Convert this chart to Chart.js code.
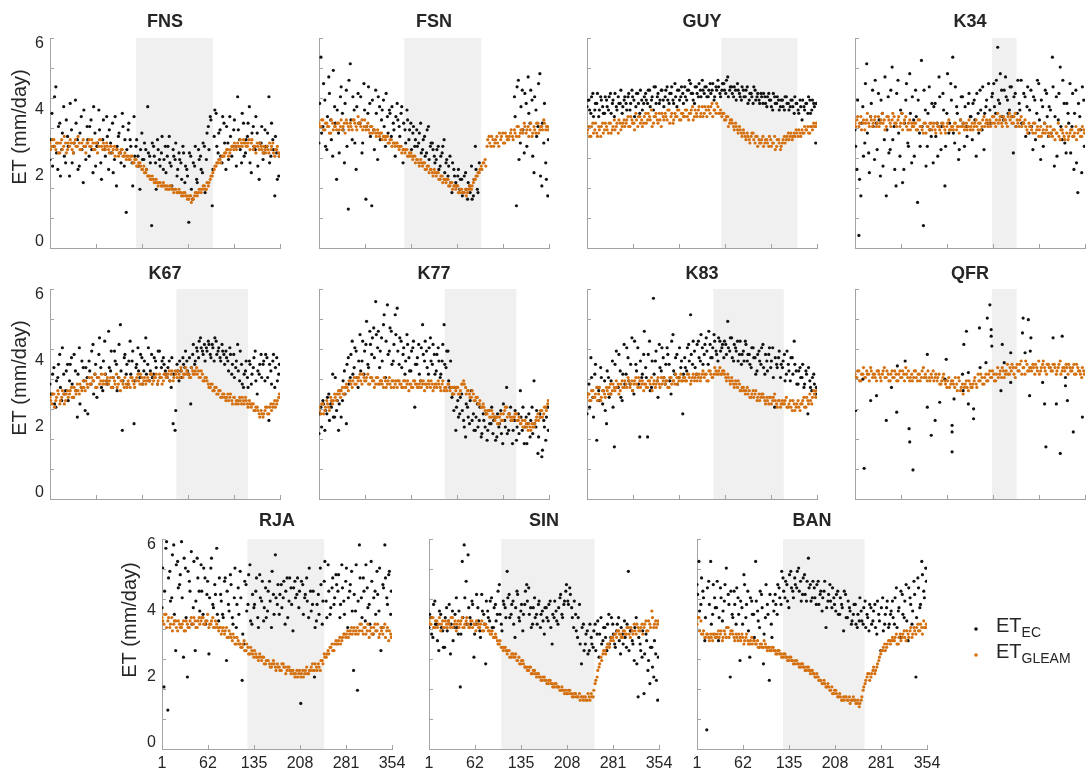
<!DOCTYPE html>
<html><head><meta charset="utf-8">
<script src="https://cdn.jsdelivr.net/npm/chart.js@4"></script>
<style>
html,body{margin:0;padding:0;background:#fff;overflow:hidden;width:1086px;height:774px;}
#wrap{position:relative;width:1086px;height:774px;overflow:hidden;}
canvas{position:absolute;}
</style></head><body><div id="wrap"></div>
<script>
const SITES = ['FNS','FSN','GUY','K34','K67','K77','K83','QFR','RJA','SIN','BAN'];
const DAYS = [1,4,7,10,13,16,19,22,25,28,31,34,37,40,43,46,49,52,55,58,61,64,67,70,73,76,79,82,85,88,91,94,97,100,103,106,109,112,115,118,121,124,127,130,133,136,139,142,145,148,151,154,157,160,163,166,169,172,175,178,181,184,187,190,193,196,199,202,205,208,211,214,217,220,223,226,229,232,235,238,241,244,247,250,253,256,259,262,265,268,271,274,277,280,283,286,289,292,295,298,301,304,307,310,313,316,319,322,325,328,331,334,337,340,343,346,349,352];
const DAYS_B = [2,5,8,11,14,17,20,23,26,29,32,35,38,41,44,47,50,53,56,59,62,65,68,71,74,77,80,83,86,89,92,95,98,101,104,107,110,113,116,119,122,125,128,131,134,137,140,143,146,149,152,155,158,161,164,167,170,173,176,179,182,185,188,191,194,197,200,203,206,209,212,215,218,221,224,227,230,233,236,239,242,245,248,251,254,257,260,263,266,269,272,275,278,281,284,287,290,293,296,299,302,305,308,311,314,317,320,323,326,329,332,335,338,341,344,347,350,353];
const X_TICK_LABELS = ['1','62','135','208','281','354'];
const Y_TICK_VALUES = [0,2,4,6];
const DRY_START = [133,132,207,211,195,194,195,211,132,112,133];
const DRY_END   = [251,250,324,249,305,304,303,249,250,255,258];

const FNS_GLEAM = [
3.0,2.9,3.1,2.8,3.0,2.7,3.1,2.9,3.0,2.8,
2.9,3.0,2.7,3.1,2.9,3.0,2.8,3.1,2.9,3.0,
3.1,2.9,3.0,2.8,3.0,2.9,3.1,2.8,2.9,3.0,
2.8,2.9,2.7,2.9,2.8,2.6,2.7,2.8,2.6,2.5,
2.6,2.5,2.6,2.4,2.5,2.3,2.4,2.2,2.3,2.1,
2.0,2.0,1.9,1.9,1.8,1.8,1.8,1.7,1.8,1.7,
1.7,1.6,1.7,1.6,1.6,1.5,1.6,1.5,1.4,1.5,
1.4,1.3,1.4,1.3,1.4,1.5,1.5,1.6,1.6,1.7,
1.6,1.7,1.9,2.0,2.2,2.3,2.4,2.5,2.6,2.6,
2.7,2.8,2.7,2.9,2.8,2.9,3.0,2.9,3.0,3.1,
3.0,2.9,3.1,3.0,2.8,2.9,3.0,2.8,2.9,2.7,
2.8,2.9,2.7,2.8,3.0,2.6,2.8,2.7];
const FNS_GLEAM_B = [
2.8,3.1,2.9,3.0,2.7,3.0,2.8,3.2,2.7,3.0,
3.1,2.8,3.0,2.9,3.2,2.8,3.0,2.9,2.7,3.0,
2.9,3.1,2.8,3.0,2.7,3.1,2.9,3.0,2.8,2.9,
2.7,2.9,2.8,2.6,2.8,2.7,2.8,2.6,2.7,2.6,
2.5,2.6,2.4,2.5,2.3,2.4,2.3,2.2,2.1,2.2,
2.0,1.9,2.0,1.8,1.9,1.7,1.8,1.7,1.7,1.6,
1.6,1.7,1.6,1.5,1.6,1.5,1.5,1.4,1.5,1.4,
1.3,1.4,1.2,1.3,1.5,1.4,1.6,1.5,1.7,1.6,
1.8,1.8,2.0,2.1,2.3,2.4,2.5,2.4,2.6,2.7,
2.8,2.6,2.8,2.9,3.0,2.8,2.9,3.1,2.9,3.0,
2.9,3.0,2.8,3.1,2.9,2.7,2.9,3.0,2.8,2.9,
2.7,2.8,3.0,2.9,2.7,2.8,2.9,2.6];
const FNS_EC = [
2.5,3.9,2.9,4.7,2.2,3.6,2.8,4.1,2.4,3.2,
2.0,3.4,2.7,4.3,3.1,2.3,3.8,1.8,2.9,3.5,
2.6,3.7,2.1,3.3,2.9,4.0,2.4,3.1,2.8,3.8,
2.2,3.0,3.6,2.5,1.7,3.2,2.7,3.9,2.3,0.9,
3.4,3.1,2.4,3.8,2.9,2.6,1.6,3.3,2.5,2.8,
4.1,2.6,0.5,2.9,2.4,3.1,2.5,2.7,2.2,2.9,
2.6,3.2,2.3,2.8,2.5,2.0,2.7,2.4,2.9,1.8,
2.2,0.6,2.6,1.3,2.3,1.9,2.8,2.6,2.1,2.9,
2.5,3.5,3.8,1.1,3.2,3.9,2.7,3.4,2.4,3.6,
2.2,3.0,3.8,2.6,3.4,2.9,4.4,3.1,2.4,3.6,
2.7,3.2,4.1,2.1,3.5,2.8,3.3,1.9,3.0,2.5,
3.4,2.9,4.4,2.6,3.1,1.4,2.7,2.0];
const FNS_EC_B = [
3.1,2.3,4.4,2.7,3.5,2.0,3.3,2.6,3.7,2.9,
4.2,2.4,3.0,3.6,2.2,3.3,2.8,4.0,2.5,3.1,
3.5,2.8,4.1,2.3,3.0,3.4,1.9,3.7,2.6,3.2,
3.4,2.7,2.1,3.8,2.9,3.3,2.4,3.5,3.1,2.8,
3.6,2.9,1.7,2.6,3.1,2.3,2.8,2.5,3.0,2.2,
2.7,2.4,3.0,2.6,1.6,2.8,2.3,3.2,2.5,2.1,
2.9,2.4,1.7,2.6,3.0,2.2,2.5,1.9,2.7,2.3,
2.0,2.7,1.6,2.4,2.9,1.8,2.5,2.2,3.0,1.5,
3.3,2.8,3.7,2.2,4.0,2.9,3.3,2.6,3.8,3.0,
3.5,2.5,3.2,2.9,3.7,2.3,3.4,2.8,3.9,2.6,
3.1,3.6,2.4,3.3,2.9,3.8,2.3,3.0,3.5,2.7,
2.9,3.3,2.4,3.6,2.8,3.2,1.9,2.6];

const FSN_GLEAM = [
3.6,3.5,3.7,3.4,3.6,3.5,3.3,3.6,3.5,3.4,
3.6,3.5,3.4,3.6,3.7,3.5,3.6,3.4,3.7,3.5,
3.8,3.6,3.7,3.5,3.4,3.6,3.3,3.5,3.4,3.3,
3.4,3.2,3.3,3.2,3.1,3.2,3.0,3.1,3.0,2.9,
3.0,2.8,2.9,2.8,2.7,2.8,2.6,2.7,2.5,2.6,
2.5,2.4,2.5,2.3,2.4,2.2,2.3,2.2,2.1,2.2,
2.0,2.1,1.9,2.0,1.9,1.8,1.9,1.7,1.8,1.7,
1.6,1.7,1.5,1.6,1.5,1.6,1.5,1.7,1.6,1.8,
1.9,2.0,2.1,2.3,2.4,2.5,2.9,3.2,2.9,3.1,
3.0,3.2,2.9,3.1,3.3,3.0,3.2,3.1,3.3,3.2,
3.4,3.2,3.5,3.3,3.4,3.6,3.3,3.5,3.4,3.2,
3.5,3.3,3.6,3.4,3.5,3.7,3.4,3.5];
const FSN_GLEAM_B = [
3.5,3.7,3.4,3.6,3.5,3.3,3.7,3.4,3.5,3.6,
3.4,3.7,3.5,3.3,3.6,3.4,3.5,3.7,3.6,3.4,
3.6,3.5,3.4,3.7,3.5,3.4,3.5,3.3,3.4,3.2,
3.3,3.3,3.1,3.2,3.2,3.0,3.1,2.9,3.0,3.0,
2.9,2.9,2.7,2.8,2.8,2.6,2.7,2.6,2.6,2.4,
2.5,2.3,2.4,2.4,2.2,2.3,2.1,2.2,2.0,2.1,
2.1,1.9,2.0,1.8,1.9,1.9,1.7,1.8,1.6,1.7,
1.7,1.5,1.6,1.5,1.5,1.4,1.6,1.6,1.7,1.9,
2.0,2.1,2.2,2.2,2.4,2.3,3.1,3.0,3.2,2.9,
3.1,3.0,3.3,3.2,3.0,3.3,3.1,3.2,3.4,3.1,
3.3,3.5,3.2,3.4,3.3,3.5,3.4,3.2,3.6,3.3,
3.4,3.6,3.3,3.5,3.4,3.6,3.5,3.4];
const FSN_EC = [
3.0,5.6,3.5,4.3,2.8,5.0,3.7,2.6,4.1,1.9,
3.3,4.4,3.9,2.4,4.6,1.0,5.4,3.1,4.0,2.2,
4.5,3.6,2.7,4.8,1.3,3.9,4.2,1.1,3.4,4.6,
2.5,4.1,3.7,4.3,2.9,3.8,4.0,3.2,3.6,2.6,
4.2,3.5,3.9,2.4,3.4,4.0,3.1,3.6,3.3,2.9,
3.4,3.0,3.6,2.8,3.2,2.7,3.5,2.9,3.0,2.6,
2.5,2.9,2.3,2.7,3.1,2.4,2.0,2.6,1.5,2.2,
1.8,2.0,1.6,1.9,1.5,2.1,1.3,1.7,2.3,1.4,
2.9,1.6,2.4,null,null,null,null,null,null,null,
null,null,null,null,null,null,null,null,null,null,
4.4,1.1,4.9,3.0,4.6,2.7,4.2,5.0,3.6,4.3,
2.1,4.0,3.5,5.1,1.7,3.0,2.4,1.4];
const FSN_EC_B = [
4.2,3.3,4.8,2.9,3.8,4.5,3.1,5.2,3.6,4.0,
2.7,4.7,3.4,4.2,2.9,4.9,3.7,4.4,3.0,4.1,
3.6,4.4,3.0,4.0,3.5,4.7,3.2,4.3,2.8,3.9,
4.4,3.1,4.0,3.5,4.5,3.3,3.9,4.1,3.4,3.8,
3.7,3.2,4.1,3.6,3.0,3.7,3.4,2.8,3.5,3.1,
2.9,3.3,2.7,3.1,2.6,3.4,2.5,3.0,2.8,2.4,
2.8,2.2,2.6,2.9,2.1,2.5,2.3,1.8,2.4,2.0,
1.7,2.2,1.9,1.4,2.0,1.6,1.8,1.5,1.3,1.9,
2.2,1.5,null,null,null,null,null,null,null,null,
null,null,null,null,null,null,null,null,null,null,
3.8,4.7,2.5,4.1,3.4,4.5,2.9,3.9,4.6,2.6,
4.4,3.2,4.8,2.0,3.6,4.2,1.9,3.1];

const GUY_GLEAM = [
3.3,3.5,3.2,3.6,3.4,3.3,3.5,3.2,3.6,3.4,
3.5,3.3,3.6,3.4,3.7,3.5,3.3,3.6,3.5,3.7,
3.6,3.8,3.5,3.7,3.6,3.9,3.5,3.8,3.7,3.6,
3.9,3.7,3.8,4.0,3.6,3.8,3.7,3.9,3.5,3.8,
3.9,3.7,4.0,3.8,3.6,3.9,3.8,4.0,3.7,3.9,
3.8,4.0,3.7,3.9,4.1,3.8,3.9,4.0,3.8,4.1,
3.9,4.0,4.1,3.9,4.2,4.0,3.9,4.1,3.9,3.8,
3.9,3.7,3.8,3.6,3.7,3.5,3.6,3.4,3.5,3.3,
3.4,3.2,3.3,3.1,3.2,3.3,3.0,3.2,3.1,3.0,
3.2,3.0,3.1,2.9,3.1,3.0,3.2,2.9,3.1,2.8,
3.0,3.2,3.1,3.3,3.2,3.1,3.3,3.4,3.2,3.3,
3.4,3.3,3.4,3.5,3.3,3.5,3.6,3.5];
const GUY_GLEAM_B = [
3.4,3.2,3.5,3.3,3.6,3.2,3.4,3.5,3.3,3.6,
3.4,3.6,3.3,3.5,3.4,3.6,3.7,3.4,3.6,3.5,
3.7,3.5,3.8,3.6,3.4,3.7,3.8,3.6,3.5,3.8,
3.6,3.9,3.7,3.5,3.8,3.9,3.6,3.7,3.9,3.7,
3.8,4.0,3.6,3.9,3.7,3.8,4.0,3.7,3.9,3.8,
4.0,3.8,3.9,4.0,3.7,4.0,3.8,4.1,3.9,3.8,
4.1,3.8,4.0,4.1,3.8,4.0,4.2,3.9,4.0,3.9,
3.7,3.8,3.5,3.7,3.6,3.4,3.5,3.3,3.4,3.2,
3.3,3.1,3.2,3.0,3.3,3.1,3.2,2.9,3.0,3.1,
2.9,3.1,3.0,3.2,2.9,3.0,2.8,3.1,3.0,2.9,
3.1,3.0,3.2,3.1,3.3,3.2,3.2,3.3,3.4,3.2,
3.3,3.5,3.4,3.3,3.5,3.4,3.5,3.6];
const GUY_EC = [
4.1,4.3,3.9,4.5,4.0,4.2,3.8,4.4,4.1,3.9,
4.3,4.0,4.5,4.2,3.8,4.1,4.4,4.2,3.9,4.3,
4.2,4.4,4.0,4.6,4.3,4.1,4.5,3.9,4.3,4.2,
4.5,4.2,4.6,4.3,4.0,4.7,4.4,4.2,4.6,4.3,
4.4,4.7,4.2,4.5,4.3,4.8,4.1,4.6,4.4,4.5,
4.7,4.3,4.6,4.8,4.5,4.2,4.7,4.4,4.6,4.9,
4.5,4.7,4.4,4.8,4.6,4.3,4.7,4.9,4.5,4.6,
4.8,4.5,5.0,4.6,4.7,4.4,4.6,4.8,4.5,4.3,
4.6,4.4,4.7,4.3,4.5,4.2,4.6,4.4,4.3,4.5,
4.2,4.4,4.1,4.5,4.3,4.0,4.4,4.2,4.3,4.1,
4.3,4.0,4.4,4.2,4.1,4.3,3.9,4.2,4.0,4.3,
3.7,4.1,4.2,3.9,4.3,4.0,4.2,3.0];
const GUY_EC_B = [
4.3,4.0,4.4,3.8,4.2,4.5,4.0,4.3,3.9,4.4,
4.1,4.4,3.9,4.3,4.5,4.0,4.2,4.6,4.1,4.4,
4.0,4.5,4.2,4.4,3.8,4.5,4.2,4.6,4.0,4.4,
4.3,4.6,4.1,4.4,4.7,4.2,4.5,4.3,4.6,4.1,
4.6,4.3,4.5,4.7,4.2,4.4,4.6,4.3,4.7,4.2,
4.4,4.6,4.9,4.5,4.3,4.7,4.5,4.8,4.4,4.6,
4.7,4.4,4.6,4.5,4.8,4.4,4.6,4.7,4.4,4.8,
4.6,4.9,4.4,4.7,4.5,4.7,4.3,4.6,4.4,4.7,
4.4,4.6,4.2,4.5,4.4,4.7,4.3,4.5,4.2,4.4,
4.5,4.2,4.4,4.3,4.1,4.5,4.2,4.4,4.0,4.3,
4.1,4.4,4.2,4.0,4.3,4.1,4.4,4.2,3.9,4.1,
4.3,4.0,4.2,4.4,3.9,4.3,4.1,4.2];

const K34_GLEAM = [
3.6,3.7,3.5,3.8,3.6,3.4,3.7,3.6,3.8,3.5,
3.7,3.5,3.8,3.6,3.9,3.7,3.5,3.8,3.6,3.7,
3.8,3.6,3.7,3.5,3.9,3.6,3.8,3.4,3.7,3.6,
3.5,3.6,3.4,3.7,3.5,3.3,3.6,3.5,3.4,3.6,
3.5,3.4,3.6,3.5,3.3,3.6,3.4,3.5,3.7,3.4,
3.5,3.6,3.4,3.5,3.7,3.5,3.4,3.6,3.5,3.4,
3.6,3.5,3.7,3.4,3.6,3.5,3.8,3.6,3.5,3.7,
3.6,3.8,3.5,3.9,3.7,3.6,3.8,3.7,3.5,3.9,
3.8,3.6,3.9,3.7,3.5,3.8,3.6,3.7,3.4,3.6,
3.5,3.3,3.6,3.4,3.2,3.5,3.3,3.6,3.4,3.3,
3.5,3.2,3.4,3.3,3.6,3.1,3.4,3.2,3.5,3.1,
3.3,3.4,3.2,3.5,3.3,3.4,3.2,3.4];
const K34_GLEAM_B = [
3.5,3.8,3.6,3.4,3.7,3.6,3.9,3.5,3.7,3.6,
3.8,3.6,3.5,3.7,3.6,3.4,3.8,3.7,3.5,3.9,
3.6,3.5,3.8,3.6,3.4,3.7,3.5,3.6,3.4,3.5,
3.6,3.4,3.7,3.5,3.4,3.6,3.3,3.5,3.6,3.4,
3.6,3.3,3.5,3.4,3.6,3.5,3.3,3.6,3.4,3.5,
3.4,3.6,3.5,3.3,3.5,3.6,3.5,3.4,3.7,3.5,
3.4,3.6,3.5,3.6,3.4,3.7,3.5,3.7,3.6,3.5,
3.8,3.6,3.7,3.6,3.8,3.5,3.7,3.6,3.8,3.7,
3.6,3.8,3.5,3.6,3.7,3.5,3.6,3.5,3.3,3.5,
3.4,3.6,3.3,3.5,3.4,3.2,3.4,3.3,3.5,3.2,
3.3,3.4,3.1,3.3,3.2,3.4,3.3,3.1,3.3,3.2,
3.4,3.2,3.3,3.1,3.4,3.2,3.5,3.3];
const K34_EC = [
3.4,2.2,0.2,1.4,4.1,3.0,5.4,2.7,3.8,4.6,
2.5,3.6,4.5,2.0,3.9,3.1,1.4,4.4,2.8,5.3,
3.5,1.7,4.9,2.6,3.9,2.2,4.3,3.0,5.1,2.4,
3.7,4.6,1.2,3.3,5.5,0.5,4.0,2.9,4.7,3.2,
2.4,4.2,3.6,5.0,2.8,4.5,1.7,3.9,3.3,4.8,
5.6,3.0,4.1,2.5,3.7,4.4,2.9,3.5,4.2,3.8,
3.1,4.3,2.6,3.9,4.6,3.4,2.8,4.1,3.6,4.0,
4.4,4.8,3.9,5.9,4.2,4.6,3.7,5.0,4.3,4.0,
4.7,2.7,4.5,3.9,4.2,4.9,3.6,4.4,4.1,3.3,
4.6,2.8,4.3,3.9,4.8,2.5,4.1,3.6,4.5,3.2,
4.0,5.6,2.3,4.4,3.7,5.3,3.1,4.2,2.7,3.9,
4.8,3.5,2.2,4.6,1.5,3.8,2.1,4.3];
const K34_EC_B = [
2.9,4.3,1.9,3.6,2.6,4.8,3.3,2.1,4.2,3.5,
4.9,2.8,3.7,4.3,2.3,5.0,3.4,2.7,4.6,3.1,
2.2,4.5,3.3,4.0,1.8,3.6,4.8,2.9,3.9,4.4,
2.6,3.8,4.3,2.9,3.5,4.6,2.3,3.9,3.4,4.2,
4.1,3.2,2.6,4.4,3.5,4.0,2.9,5.1,3.6,4.3,
3.3,4.7,3.9,2.8,4.4,3.6,4.1,3.2,4.5,3.8,
4.2,3.7,4.5,3.3,4.0,4.7,3.9,4.3,4.8,3.6,
4.5,4.1,4.9,4.3,5.1,3.8,4.6,4.4,3.9,4.7,
3.8,4.4,3.5,4.9,4.0,3.6,4.5,3.2,4.7,4.0,
3.5,4.4,3.1,4.9,3.7,4.3,2.9,4.6,3.8,4.1,
3.3,4.7,3.8,2.6,4.5,3.5,4.9,3.0,4.2,3.6,
2.7,4.5,3.9,2.4,4.2,3.4,4.7,2.9];

const K67_GLEAM = [
2.9,2.7,3.0,2.8,3.1,2.7,2.9,3.0,2.8,3.1,
3.0,3.2,2.9,3.1,3.3,3.0,3.2,3.4,3.1,3.3,
3.5,3.3,3.4,3.6,3.2,3.5,3.4,3.3,3.6,3.4,
3.3,3.5,3.2,3.4,3.6,3.3,3.1,3.4,3.2,3.3,
3.4,3.2,3.5,3.3,3.4,3.6,3.3,3.5,3.4,3.3,
3.5,3.4,3.6,3.4,3.5,3.3,3.6,3.5,3.4,3.6,
3.5,3.7,3.6,3.4,3.7,3.5,3.6,3.8,3.5,3.6,
3.7,3.6,3.5,3.7,3.6,3.8,3.7,3.5,3.6,3.4,
3.5,3.3,3.2,3.3,3.1,3.2,3.0,3.1,2.9,3.0,
2.8,3.0,2.9,2.8,2.9,2.7,2.8,2.9,2.7,2.8,
2.9,2.7,2.8,2.6,2.7,2.5,2.6,2.4,2.5,2.3,
2.5,2.6,2.4,2.7,2.6,2.8,2.7,2.9];
const K67_GLEAM_B = [
2.8,3.0,2.6,2.9,3.0,2.8,3.1,2.7,3.0,2.9,
3.1,2.9,3.2,3.0,3.1,3.3,3.1,3.2,3.4,3.2,
3.3,3.5,3.4,3.2,3.5,3.3,3.6,3.4,3.3,3.5,
3.4,3.2,3.5,3.3,3.2,3.5,3.4,3.3,3.5,3.2,
3.3,3.5,3.4,3.2,3.5,3.4,3.6,3.3,3.5,3.4,
3.4,3.6,3.3,3.5,3.6,3.4,3.5,3.3,3.6,3.5,
3.6,3.4,3.7,3.5,3.6,3.7,3.5,3.7,3.6,3.8,
3.6,3.5,3.8,3.6,3.7,3.6,3.5,3.7,3.4,3.5,
3.4,3.2,3.3,3.1,3.2,3.0,3.1,2.9,3.0,2.9,
2.9,2.8,3.0,2.7,2.9,2.8,2.7,2.8,2.9,2.7,
2.8,2.6,2.7,2.7,2.5,2.6,2.5,2.3,2.4,2.4,
2.6,2.4,2.6,2.5,2.7,2.6,2.8,3.0];
const K67_EC = [
3.3,3.0,3.8,2.6,3.5,4.2,2.8,3.6,3.1,3.9,
3.4,4.1,2.9,3.7,2.3,4.4,3.2,3.8,2.5,3.5,
4.0,3.3,4.5,3.6,2.9,4.2,3.8,3.1,4.6,3.4,
4.9,3.7,3.2,4.3,3.9,3.5,5.1,1.9,4.1,3.6,
3.3,4.6,4.0,2.1,3.8,4.4,3.5,4.1,3.7,4.7,
3.9,3.4,4.2,3.6,4.0,3.3,4.3,3.8,4.1,3.7,
3.5,4.0,3.2,2.1,1.9,3.9,3.4,3.7,4.1,3.8,
4.0,3.6,2.7,4.2,3.9,4.4,4.1,4.7,4.3,4.5,
4.4,4.6,4.2,4.5,4.0,4.6,4.3,4.1,4.5,4.2,
4.3,4.0,4.4,3.6,4.2,3.8,4.5,3.4,3.9,3.2,
3.7,3.5,4.0,3.3,3.8,4.3,3.0,3.6,4.2,3.9,
3.4,4.1,2.2,3.7,4.0,3.2,4.1,3.6];
const K67_EC_B = [
3.0,3.6,2.7,3.4,3.9,3.2,4.4,3.0,3.7,2.8,
3.9,3.3,4.2,3.1,3.6,2.7,4.0,3.4,3.8,2.4,
3.7,4.3,3.0,3.9,3.5,4.7,3.2,4.0,3.6,3.3,
3.8,4.3,3.5,4.0,3.1,4.5,3.7,3.4,4.2,3.9,
4.0,3.6,4.3,3.4,3.9,3.7,4.2,3.3,4.0,3.6,
4.4,3.7,3.5,4.1,3.8,4.3,3.5,4.0,3.9,3.6,
3.8,3.4,4.1,3.6,2.5,3.7,4.0,3.5,3.9,4.3,
3.7,4.1,3.8,4.5,4.0,4.3,4.6,4.4,4.2,4.0,
4.3,4.5,4.1,4.4,4.7,4.2,4.4,4.0,4.3,3.9,
4.1,3.7,4.2,3.9,3.5,4.0,3.7,4.3,3.3,3.6,
4.0,3.2,3.9,3.6,4.1,3.4,3.7,3.9,3.5,4.0,
4.2,3.5,3.9,3.3,4.2,3.8,3.4,3.9];

const K77_GLEAM = [
2.6,2.4,2.7,2.5,2.8,2.6,2.9,2.7,3.0,2.8,
3.1,2.9,3.2,3.0,3.3,3.1,3.4,3.2,3.5,3.3,
3.4,3.6,3.3,3.5,3.4,3.6,3.3,3.5,3.4,3.3,
3.5,3.3,3.4,3.2,3.4,3.3,3.5,3.2,3.4,3.3,
3.2,3.4,3.3,3.2,3.4,3.3,3.1,3.3,3.2,3.4,
3.3,3.2,3.4,3.3,3.1,3.3,3.4,3.2,3.3,3.2,
3.3,3.4,3.2,3.3,3.1,3.2,3.3,3.1,3.2,3.0,
3.1,3.2,3.0,3.3,3.4,3.2,3.1,3.0,2.9,3.0,
2.8,2.9,2.7,2.6,2.7,2.5,2.4,2.5,2.3,2.4,
2.2,2.3,2.1,2.4,2.2,2.5,2.6,2.4,2.3,2.2,
2.3,2.4,2.2,2.1,2.2,2.0,2.1,1.9,2.0,2.1,
2.0,2.2,2.4,2.3,2.5,2.4,2.6,2.7];
const K77_GLEAM_B = [
2.5,2.7,2.4,2.6,2.7,2.5,2.8,2.8,2.9,3.0,
3.0,3.1,3.0,3.2,3.2,3.4,3.3,3.4,3.3,3.5,
3.5,3.4,3.6,3.4,3.5,3.3,3.5,3.4,3.2,3.5,
3.3,3.4,3.3,3.5,3.2,3.4,3.3,3.4,3.2,3.4,
3.4,3.3,3.2,3.4,3.2,3.4,3.3,3.2,3.4,3.3,
3.2,3.3,3.2,3.4,3.3,3.2,3.3,3.4,3.1,3.3,
3.2,3.3,3.1,3.4,3.2,3.1,3.3,3.2,3.0,3.2,
3.2,3.0,3.1,3.3,3.3,3.0,3.1,2.9,3.1,2.8,
2.9,2.7,2.8,2.6,2.6,2.4,2.5,2.3,2.5,2.3,
2.3,2.1,2.3,2.2,2.4,2.6,2.3,2.4,2.2,2.3,
2.4,2.2,2.3,2.1,2.0,2.2,2.0,2.1,1.9,2.0,
2.1,2.3,2.2,2.5,2.3,2.6,2.5,2.8];
const K77_EC = [
1.8,2.6,2.8,1.9,2.4,3.0,2.7,3.6,2.3,2.5,
1.9,3.1,2.8,3.7,2.1,4.1,3.5,4.6,3.8,4.3,
3.2,4.8,4.0,3.6,4.5,3.9,4.9,4.2,5.0,5.8,
4.4,3.8,4.7,5.1,3.5,5.7,4.3,4.9,4.0,5.4,
5.6,3.9,4.6,4.2,3.6,4.8,4.1,3.7,4.4,2.6,
3.9,4.5,3.4,5.1,4.0,4.3,3.6,4.7,3.9,4.2,
3.7,4.4,3.5,4.0,5.1,3.8,4.3,3.2,2.9,2.5,
1.9,2.8,2.4,3.0,2.2,1.7,2.6,2.1,3.1,2.4,
1.9,2.7,2.2,1.7,2.4,2.0,1.6,2.5,2.1,1.8,
2.3,1.7,2.0,2.5,1.5,2.2,3.2,1.9,2.6,1.5,
2.2,1.6,2.4,3.1,1.9,1.5,2.3,2.1,1.7,2.6,
3.4,2.0,1.2,2.4,1.1,2.2,1.6,2.6];
const K77_EC_B = [
2.4,2.0,2.7,2.5,2.9,2.2,2.6,2.3,3.5,2.8,
2.7,2.3,3.4,3.0,3.9,3.3,4.2,3.6,4.4,3.5,
4.0,3.7,4.6,4.3,5.2,3.8,4.5,4.7,4.1,4.8,
4.9,4.3,4.0,5.4,4.6,4.2,5.0,3.9,4.5,4.8,
4.3,4.7,3.8,4.4,4.0,4.5,3.7,4.3,4.6,3.9,
4.1,3.6,4.4,4.2,4.6,3.8,4.4,4.0,4.5,3.6,
4.2,4.0,3.6,4.5,3.9,4.3,3.4,4.0,3.0,3.2,
2.6,2.3,2.9,2.5,2.0,2.7,2.3,2.8,2.2,1.9,
2.3,2.0,2.6,1.8,2.2,2.4,1.9,2.1,2.6,2.2,
1.6,2.4,2.1,1.8,2.7,2.0,1.8,2.4,2.2,1.9,
2.5,2.0,1.8,2.3,2.6,2.0,1.5,2.4,2.2,1.8,
2.1,2.5,1.7,2.3,1.3,2.0,2.3,1.9];

const K83_GLEAM = [
2.9,3.0,2.8,3.1,2.9,3.2,3.0,2.8,3.1,3.0,
3.2,3.0,3.3,3.1,3.2,3.4,3.3,3.1,3.4,3.2,
3.3,3.5,3.2,3.4,3.3,3.5,3.2,3.4,3.3,3.1,
3.3,3.2,3.4,3.5,3.3,3.2,3.4,3.3,3.5,3.4,
3.3,3.4,3.2,3.5,3.4,3.3,3.5,3.4,3.6,3.4,
3.5,3.4,3.6,3.3,3.5,3.4,3.6,3.5,3.4,3.6,
3.5,3.6,3.4,3.7,3.5,3.6,3.7,3.6,3.8,3.6,
3.7,3.5,3.6,3.4,3.5,3.3,3.4,3.2,3.3,3.1,
3.2,3.0,3.2,3.1,2.9,3.1,3.0,2.8,3.0,2.9,
3.0,2.8,2.9,2.7,2.9,2.8,3.0,2.7,2.8,2.6,
2.8,2.7,2.9,2.6,2.8,2.5,2.7,2.6,2.8,2.5,
2.7,2.9,2.6,2.8,3.0,2.7,3.1,2.9];
const K83_GLEAM_B = [
3.0,2.8,3.1,2.9,3.0,2.8,3.2,2.9,3.1,2.9,
3.1,3.2,3.0,3.3,3.1,3.2,3.0,3.3,3.2,3.4,
3.2,3.4,3.3,3.1,3.4,3.3,3.5,3.2,3.4,3.3,
3.2,3.4,3.3,3.1,3.4,3.3,3.5,3.2,3.3,3.5,
3.4,3.2,3.5,3.3,3.4,3.6,3.3,3.5,3.4,3.5,
3.4,3.6,3.5,3.4,3.6,3.5,3.4,3.6,3.5,3.7,
3.6,3.4,3.7,3.6,3.5,3.8,3.6,3.7,3.6,3.7,
3.6,3.4,3.5,3.3,3.4,3.2,3.3,3.4,3.1,3.2,
3.1,3.1,3.0,2.9,3.0,2.9,3.1,2.9,2.8,3.0,
2.9,2.7,2.8,2.9,2.7,2.9,2.8,2.6,2.8,2.7,
2.7,2.8,2.6,2.7,2.6,2.8,2.5,2.7,2.6,2.7,
2.8,2.6,2.9,2.7,2.8,2.9,3.0,3.1];
const K83_EC = [
2.4,3.3,4.1,2.9,3.6,1.6,3.1,3.8,2.7,3.4,
2.1,3.5,3.0,4.0,1.4,4.3,3.2,3.7,2.8,4.5,
3.6,4.1,3.3,4.7,3.0,3.9,4.4,1.7,3.5,4.2,
3.8,1.7,4.6,3.2,5.9,4.0,3.4,4.5,3.7,4.1,
3.3,4.4,3.9,3.0,4.8,3.6,4.2,3.5,3.8,2.4,
4.1,3.7,4.5,5.4,3.9,4.3,3.6,4.6,4.0,4.4,
4.2,4.7,3.9,4.5,4.1,4.8,4.3,4.0,4.6,4.4,
4.1,4.5,5.2,4.3,4.7,4.0,4.4,4.6,4.2,3.9,
4.3,4.6,4.0,4.2,3.8,4.4,4.1,3.7,4.3,3.9,
4.5,3.6,4.0,4.2,3.8,4.4,2.6,3.9,4.1,3.5,
3.8,4.2,3.6,3.9,3.4,4.1,4.6,3.7,3.3,3.8,
3.5,3.2,3.7,2.4,3.4,3.1,3.6,3.0];
const K83_EC_B = [
3.0,2.6,3.5,2.3,3.9,3.2,2.8,3.5,3.1,2.5,
3.7,2.9,3.4,2.6,3.9,3.2,4.2,2.9,3.6,3.3,
4.4,3.4,3.9,3.1,4.6,3.7,3.3,4.0,3.6,4.9,
3.5,4.2,3.1,4.0,3.6,4.3,2.9,3.8,4.4,3.5,
3.9,4.2,3.4,4.6,3.7,4.1,3.3,4.4,4.0,3.6,
3.8,4.4,4.0,4.2,4.6,3.8,4.5,4.1,4.8,3.9,
4.5,4.3,4.9,4.1,4.4,4.6,4.2,4.7,4.3,4.5,
4.6,4.2,4.4,4.7,4.1,4.5,4.3,4.0,4.6,4.2,
4.0,4.5,4.2,3.9,4.4,4.1,3.6,4.2,4.0,4.4,
3.8,4.2,3.7,4.4,4.0,3.5,4.1,3.8,4.3,3.9,
4.0,3.4,4.3,3.7,4.1,3.6,3.9,3.3,3.7,3.5,
3.9,3.3,3.6,3.8,3.2,3.5,3.3,3.2];

const QFR_GLEAM = [
3.6,3.5,3.7,3.4,3.6,3.5,3.7,3.6,3.8,3.5,
3.6,3.4,3.7,3.5,3.6,3.8,3.5,3.6,3.4,3.7,
3.5,3.6,3.4,3.7,3.5,3.6,3.8,3.5,3.4,3.6,
3.5,3.7,3.4,3.6,3.5,3.8,3.6,3.4,3.5,3.6,
3.7,3.5,3.4,3.6,3.3,3.5,3.4,3.2,3.5,3.3,
3.4,3.2,3.3,3.5,3.1,3.3,3.2,3.4,3.1,3.3,
3.2,3.4,3.3,3.6,3.4,3.5,3.3,3.6,3.4,3.7,
3.5,3.6,3.4,3.8,3.6,3.5,3.7,3.6,3.9,3.6,
3.7,3.8,3.5,3.9,3.7,4.0,3.8,3.6,3.9,3.7,
3.8,3.9,3.6,3.8,4.0,3.7,3.9,3.8,3.6,3.9,
3.8,3.7,3.9,3.6,3.8,4.0,3.7,3.8,3.9,3.6,
3.8,3.7,3.9,3.6,3.8,3.7,3.5,3.7];
const QFR_GLEAM_B = [
3.5,3.7,3.4,3.6,3.8,3.5,3.6,3.4,3.7,3.6,
3.5,3.7,3.6,3.4,3.7,3.5,3.7,3.4,3.6,3.5,
3.7,3.4,3.6,3.5,3.7,3.4,3.6,3.7,3.5,3.4,
3.7,3.5,3.6,3.4,3.7,3.5,3.5,3.7,3.4,3.5,
3.4,3.6,3.5,3.3,3.4,3.6,3.3,3.4,3.2,3.4,
3.3,3.5,3.1,3.4,3.2,3.0,3.3,3.2,3.4,3.2,
3.3,3.5,3.2,3.4,3.6,3.3,3.5,3.4,3.6,3.5,
3.7,3.4,3.6,3.5,3.7,3.8,3.5,3.7,3.6,3.8,
3.9,3.6,3.8,3.7,3.9,3.6,3.8,4.0,3.7,3.8,
3.7,3.8,3.9,3.7,3.6,3.8,4.0,3.7,3.9,3.8,
3.7,3.9,3.8,3.7,3.9,3.6,3.8,3.7,3.8,3.9,
3.7,3.8,3.6,3.9,3.7,3.6,3.8,3.6];
const QFR_EC_DAYS = [2,13,15,25,34,49,57,65,66,78,84,85,90,112,112,118,124,131,139,141,150,150,150,153,166,167,168,172,175,175,183,183,192,193,202,204,208,210,210,211,225,227,230,240,240,258,259,262,267,269,270,271,289,292,294,305,310,316,319,324,324,327,336,350];
const QFR_EC = [2.5,3.45,0.75,2.8,2.95,2.2,3.2,2.45,3.85,4.0,1.95,1.55,0.7,4.2,2.6,1.75,2.2,2.75,3.45,4.05,2.05,1.85,1.25,2.85,3.6,3.1,4.5,4.9,2.7,3.65,2.55,2.25,5.0,3.8,3.95,5.3,5.7,4.95,4.75,4.45,3.1,4.5,3.95,4.25,3.35,4.85,5.3,4.25,5.25,2.95,4.3,4.7,3.35,2.7,1.4,4.7,2.7,1.2,4.75,3.5,3.25,2.8,1.85,2.3];

const RJA_GLEAM = [
3.8,3.6,3.9,3.7,3.5,3.8,3.6,3.7,3.4,3.6,
3.5,3.7,3.4,3.6,3.5,3.8,3.6,3.7,3.5,3.8,
3.7,3.8,3.6,3.7,3.5,3.6,3.8,3.5,3.6,3.4,
3.5,3.4,3.3,3.5,3.2,3.3,3.1,3.2,3.0,3.1,
3.0,2.9,3.1,2.8,2.9,2.7,2.8,2.6,2.7,2.6,
2.7,2.5,2.6,2.4,2.5,2.4,2.3,2.5,2.3,2.4,
2.3,2.2,2.4,2.3,2.2,2.3,2.1,2.2,2.0,2.2,
2.1,2.0,2.2,2.1,2.3,2.1,2.2,2.4,2.2,2.3,
2.4,2.2,2.5,2.7,2.6,2.8,2.9,3.0,2.8,3.1,
3.0,3.2,3.1,3.3,3.2,3.4,3.3,3.5,3.4,3.3,
3.5,3.4,3.6,3.3,3.5,3.4,3.2,3.5,3.3,3.6,
3.4,3.2,3.5,3.3,3.6,3.4,3.1,3.3];
const RJA_GLEAM_B = [
3.7,3.9,3.5,3.8,3.6,3.4,3.7,3.5,3.7,3.5,
3.6,3.4,3.7,3.5,3.7,3.6,3.8,3.5,3.7,3.6,
3.8,3.6,3.7,3.9,3.6,3.7,3.5,3.7,3.5,3.5,
3.3,3.5,3.4,3.2,3.4,3.2,3.3,3.0,3.2,3.0,
2.9,3.0,2.8,3.0,2.7,2.9,2.7,2.8,2.6,2.5,
2.6,2.6,2.4,2.5,2.5,2.3,2.4,2.4,2.2,2.3,
2.2,2.4,2.3,2.1,2.3,2.2,2.2,2.1,2.1,2.0,
2.2,2.1,2.0,2.2,2.1,2.2,2.3,2.2,2.4,2.2,
2.3,2.5,2.4,2.6,2.7,2.7,2.9,2.8,3.0,3.0,
3.1,3.0,3.2,3.3,3.3,3.2,3.4,3.3,3.5,3.4,
3.3,3.6,3.4,3.5,3.3,3.6,3.4,3.3,3.5,3.4,
3.6,3.3,3.4,3.5,3.2,3.5,3.4,3.2];
const RJA_EC = [
4.1,1.7,5.9,1.0,5.2,4.4,6.0,2.8,5.5,4.8,
6.1,2.6,5.3,2.0,4.9,5.8,4.1,2.8,5.6,4.6,
5.4,3.9,5.0,4.5,2.7,5.3,4.2,4.8,5.9,3.7,
4.5,3.9,4.9,2.5,4.2,5.1,3.8,4.4,3.5,4.7,
5.2,1.9,3.0,4.8,4.2,5.4,3.6,4.1,4.6,3.8,
5.1,4.3,3.7,4.7,4.0,4.9,3.5,4.5,5.7,4.2,
3.9,4.8,4.4,3.6,5.0,4.3,4.7,3.4,4.9,4.5,
4.1,1.2,4.8,4.4,5.0,3.8,4.6,4.2,2.0,3.7,
4.5,5.3,3.6,4.9,4.3,5.4,3.9,4.7,4.2,5.1,
4.6,3.8,5.4,4.3,4.9,3.5,4.6,5.2,2.2,4.0,
1.6,6.0,4.4,5.0,3.7,4.7,4.2,5.5,3.3,4.6,
5.2,4.0,2.8,4.8,6.0,4.4,5.1,3.9];
const RJA_EC_B = [
5.3,4.6,6.1,5.0,4.3,5.7,3.9,5.4,4.7,5.1,
4.4,5.6,3.8,5.2,4.6,3.6,5.5,4.3,5.0,4.0,
4.6,5.3,3.6,4.9,4.4,5.6,4.1,4.5,3.9,5.0,
4.3,3.8,5.0,4.6,4.0,4.8,3.6,5.3,4.2,3.9,
4.4,3.3,4.9,4.0,5.1,3.7,4.5,4.2,5.0,3.5,
4.4,4.9,4.1,3.8,4.6,4.3,5.2,3.9,4.4,4.8,
4.5,4.1,4.9,4.6,3.8,5.0,4.2,4.7,4.4,5.0,
4.6,4.9,3.9,4.5,4.3,5.3,4.0,4.6,3.5,4.2,
3.9,4.8,4.3,5.5,3.8,4.6,4.1,5.0,4.4,4.8,
5.1,4.2,4.7,3.9,5.3,4.4,4.8,4.0,4.5,5.4,
4.3,5.0,3.8,4.6,5.4,4.1,3.6,4.9,4.4,3.9,
4.5,5.3,3.5,4.7,5.0,4.2,5.2,4.6];

const SIN_GLEAM = [
3.7,3.6,3.8,3.5,3.7,3.6,3.4,3.7,3.5,3.6,
3.7,3.5,3.8,3.6,3.4,3.7,3.6,3.8,3.5,3.7,
3.6,3.5,3.7,3.6,3.4,3.6,3.5,3.7,3.4,3.6,
3.5,3.4,3.3,3.2,3.3,3.1,3.0,2.9,2.8,2.9,
2.7,2.8,2.6,2.7,2.6,2.5,2.6,2.4,2.5,2.3,
2.3,2.2,2.3,2.1,2.2,2.0,2.1,2.0,1.9,2.0,
1.9,1.8,1.9,1.8,1.7,1.8,1.7,1.6,1.7,1.6,
1.6,1.5,1.6,1.5,1.4,1.5,1.4,1.5,1.4,1.3,
1.4,1.3,1.4,1.5,1.4,1.8,2.0,2.3,2.6,2.7,
2.8,2.9,3.0,3.1,3.2,3.3,3.2,3.4,3.3,3.2,
3.4,3.3,3.5,3.2,3.4,3.6,3.3,3.5,3.4,3.6,
3.5,3.7,3.4,3.6,4.0,3.5,3.7,3.6];
const SIN_GLEAM_B = [
3.6,3.8,3.5,3.7,3.5,3.8,3.6,3.5,3.7,3.5,
3.6,3.8,3.5,3.7,3.6,3.5,3.7,3.5,3.6,3.8,
3.5,3.7,3.5,3.6,3.7,3.5,3.6,3.4,3.6,3.5,
3.4,3.3,3.4,3.2,3.2,3.0,3.1,2.9,2.9,2.8,
2.8,2.6,2.7,2.6,2.7,2.5,2.4,2.5,2.4,2.3,
2.2,2.3,2.1,2.2,2.1,2.1,2.0,1.9,2.0,1.9,
1.8,1.9,1.8,1.7,1.8,1.7,1.7,1.6,1.6,1.5,
1.5,1.6,1.5,1.4,1.5,1.4,1.4,1.3,1.4,1.4,
1.3,1.5,1.3,1.4,1.6,1.9,2.2,2.4,2.5,2.8,
2.7,3.0,2.9,3.2,3.1,3.3,3.4,3.3,3.2,3.4,
3.3,3.5,3.3,3.5,3.3,3.4,3.6,3.4,3.5,3.3,
3.6,3.4,3.7,3.5,3.8,3.6,3.5,3.7];
const SIN_EC = [
3.5,3.8,3.2,4.3,3.6,2.8,3.9,3.4,2.9,4.1,
3.7,2.7,4.0,3.5,4.4,3.3,1.7,5.5,6.0,4.9,
5.7,3.8,4.3,2.6,3.6,4.1,3.4,4.5,3.9,2.4,
4.0,3.7,4.4,3.5,4.2,3.9,4.8,3.6,4.3,4.1,
5.2,4.5,3.9,4.3,3.2,4.6,3.8,4.0,3.4,4.2,
4.8,4.7,4.1,3.6,4.4,3.9,4.2,3.5,4.0,3.3,
4.1,3.7,4.3,3.0,3.8,4.0,3.6,4.4,3.9,4.2,
4.6,4.3,4.7,4.1,3.5,3.9,3.2,4.2,2.4,3.6,
3.0,3.4,2.8,3.2,2.9,3.6,3.3,2.6,3.8,3.1,
3.5,2.8,3.9,3.2,3.6,3.0,3.4,3.8,2.7,3.3,
3.7,2.9,5.2,3.4,3.1,2.5,3.8,1.4,3.0,2.6,
1.5,3.3,2.2,1.8,2.9,2.0,2.7,1.3];
const SIN_EC_B = [
3.9,3.3,4.2,3.6,3.1,4.0,3.5,2.9,3.8,3.4,
4.2,3.6,3.1,3.9,3.5,4.0,3.3,3.8,4.4,3.6,
4.1,3.6,4.2,3.3,4.5,3.7,3.2,4.0,3.6,4.3,
3.8,4.3,3.5,4.1,3.7,4.6,3.9,3.4,4.2,3.8,
4.4,3.8,4.2,3.6,4.1,4.5,3.7,4.2,3.9,4.6,
4.3,3.9,3.5,4.1,3.8,3.6,4.3,3.9,3.7,4.1,
3.8,4.2,3.5,3.9,4.3,3.7,4.1,4.5,3.8,4.3,
4.8,4.2,4.5,3.8,4.3,3.4,3.8,3.0,3.5,2.8,
3.3,2.7,3.6,3.0,3.4,2.8,3.7,3.3,3.0,3.5,
3.2,3.6,3.0,3.8,3.3,2.9,3.6,3.1,3.5,3.0,
3.2,3.6,2.8,3.4,3.0,3.5,2.4,3.2,2.8,3.4,
2.7,3.1,2.5,2.9,2.3,3.1,1.9,2.6];

const BAN_GLEAM = [
3.6,3.8,3.7,3.3,3.2,3.3,3.2,3.3,3.1,3.3,
3.2,3.4,3.3,3.1,3.4,3.2,3.5,3.3,3.4,3.2,
3.3,3.1,3.2,3.3,3.0,3.2,3.1,3.0,3.2,3.1,
3.0,3.1,2.9,3.0,2.9,3.0,2.8,2.9,2.8,2.9,
2.8,2.7,2.8,2.7,2.6,2.7,2.6,2.5,2.6,2.5,
2.4,2.5,2.4,2.3,2.4,2.3,2.2,2.3,2.1,2.2,
2.1,2.0,2.0,1.9,1.8,1.9,1.7,1.8,1.6,1.7,
1.5,1.6,1.4,1.5,1.3,1.4,1.4,1.3,1.4,1.3,
1.4,1.3,1.2,1.1,1.3,1.6,1.8,2.0,2.1,2.0,
2.2,2.1,2.3,2.5,2.7,2.8,3.0,2.9,3.1,3.0,
3.2,3.1,3.3,3.0,3.3,3.2,3.4,3.1,3.3,3.4,
3.2,3.5,3.3,3.6,3.4,3.5,3.7,3.5];
const BAN_GLEAM_B = [
3.8,3.4,3.3,3.4,3.2,3.3,3.1,3.2,3.3,3.2,
3.3,3.2,3.4,3.2,3.3,3.5,3.2,3.4,3.3,3.1,
3.2,3.3,3.1,3.2,3.1,3.3,3.0,3.1,3.0,3.1,
3.0,2.9,3.0,2.9,3.1,2.9,2.9,2.8,2.9,2.8,
2.7,2.8,2.7,2.6,2.7,2.6,2.5,2.6,2.5,2.4,
2.5,2.4,2.3,2.4,2.3,2.2,2.3,2.2,2.2,2.1,
2.0,2.1,1.9,1.9,1.8,1.8,1.7,1.7,1.6,1.5,
1.6,1.5,1.4,1.4,1.3,1.3,1.4,1.3,1.2,1.3,
1.3,1.2,1.3,1.2,1.4,1.7,1.9,2.1,1.9,2.1,
2.3,2.2,2.4,2.6,2.8,2.9,2.8,3.0,3.1,3.1,
3.1,3.2,3.0,3.2,3.1,3.3,3.2,3.4,3.2,3.5,
3.3,3.4,3.5,3.4,3.6,3.3,3.5,3.6];
const BAN_EC = [
4.8,5.5,4.2,4.6,3.1,0.4,4.9,5.5,3.9,4.4,
4.1,3.1,4.7,3.7,4.3,5.3,4.5,2.0,3.9,4.6,
3.6,4.4,2.5,4.1,5.1,3.8,4.6,2.6,4.3,3.9,
5.5,4.0,3.5,4.5,2.4,3.8,4.2,1.9,3.6,4.3,
4.5,3.9,4.7,4.2,5.0,4.4,4.8,4.1,5.2,4.6,
5.0,4.7,5.3,4.9,4.5,5.1,4.3,5.6,4.8,4.4,
4.7,4.2,4.9,4.5,4.0,4.6,3.5,4.3,4.8,4.1,
4.4,4.0,4.6,3.9,4.2,3.4,4.5,3.8,4.1,3.6,
3.9,4.2,3.5,3.7,4.0,3.6,4.3,3.9,3.4,4.1,
3.7,4.2,3.3,3.9,2.8,4.4,3.6,4.1,3.5,3.9,
4.3,3.6,4.7,4.0,3.2,4.5,3.8,4.8,3.1,4.4,
3.6,4.9,2.0,5.0,4.1,5.5,4.6,5.3];
const BAN_EC_B = [
4.5,4.0,5.0,4.4,3.8,4.7,4.2,3.6,4.8,4.1,
4.9,3.8,4.4,4.0,4.8,3.5,4.2,4.6,3.8,4.2,
4.7,3.9,4.3,3.6,4.8,4.2,3.4,4.4,3.9,3.2,
4.3,3.7,4.6,4.1,3.3,4.8,3.9,4.5,3.2,4.0,
4.2,4.8,4.4,5.2,4.6,4.9,4.3,5.1,4.7,4.4,
4.8,5.2,4.6,4.3,5.0,4.5,4.9,4.7,4.3,4.9,
4.4,4.8,4.2,4.6,4.4,4.9,4.1,4.5,4.3,4.7,
4.2,4.5,3.9,4.4,4.1,4.6,3.8,4.3,4.0,3.7,
4.2,3.6,3.9,4.4,3.7,4.1,3.5,3.8,4.2,3.6,
4.0,3.5,4.3,3.7,4.1,3.4,3.9,4.3,3.6,4.0,
3.8,4.4,3.5,4.1,4.6,3.9,4.3,3.7,4.7,4.2,
4.0,4.5,3.8,4.7,4.2,5.1,4.4,4.9];

// tables built from the named arrays above: [values, days] pairs per site
const GLEAM_BY_SITE = {
  FNS:[[FNS_GLEAM,DAYS],[FNS_GLEAM_B,DAYS_B]], FSN:[[FSN_GLEAM,DAYS],[FSN_GLEAM_B,DAYS_B]],
  GUY:[[GUY_GLEAM,DAYS],[GUY_GLEAM_B,DAYS_B]], K34:[[K34_GLEAM,DAYS],[K34_GLEAM_B,DAYS_B]],
  K67:[[K67_GLEAM,DAYS],[K67_GLEAM_B,DAYS_B]], K77:[[K77_GLEAM,DAYS],[K77_GLEAM_B,DAYS_B]],
  K83:[[K83_GLEAM,DAYS],[K83_GLEAM_B,DAYS_B]], QFR:[[QFR_GLEAM,DAYS],[QFR_GLEAM_B,DAYS_B]],
  RJA:[[RJA_GLEAM,DAYS],[RJA_GLEAM_B,DAYS_B]], SIN:[[SIN_GLEAM,DAYS],[SIN_GLEAM_B,DAYS_B]],
  BAN:[[BAN_GLEAM,DAYS],[BAN_GLEAM_B,DAYS_B]]
};
const EC_BY_SITE = {
  FNS:[[FNS_EC,DAYS],[FNS_EC_B,DAYS_B]], FSN:[[FSN_EC,DAYS],[FSN_EC_B,DAYS_B]],
  GUY:[[GUY_EC,DAYS],[GUY_EC_B,DAYS_B]], K34:[[K34_EC,DAYS],[K34_EC_B,DAYS_B]],
  K67:[[K67_EC,DAYS],[K67_EC_B,DAYS_B]], K77:[[K77_EC,DAYS],[K77_EC_B,DAYS_B]],
  K83:[[K83_EC,DAYS],[K83_EC_B,DAYS_B]], QFR:[[QFR_EC,QFR_EC_DAYS]],
  RJA:[[RJA_EC,DAYS],[RJA_EC_B,DAYS_B]], SIN:[[SIN_EC,DAYS],[SIN_EC_B,DAYS_B]],
  BAN:[[BAN_EC,DAYS],[BAN_EC_B,DAYS_B]]
};

// ---------- layout / style ----------
const FONT = "'Liberation Sans', Arial, Helvetica, sans-serif";
const COLOR_EC = '#111111', COLOR_GLEAM = '#D4700F', COLOR_BAND = '#F0F0F0', COLOR_AXIS = '#A3A3A3', COLOR_TEXT = '#262626';
const PLOT_W = 230, PLOT_H = 210, Y_MIN = -0.18, Y_MAX = 6.18;
const MARGIN_L = 50, MARGIN_T = 38, MARGIN_R = 22, MARGIN_B = 30;
const PANEL_POS = [
  {left:50, top:38, row:0}, {left:319, top:38, row:0}, {left:587, top:38, row:0}, {left:855, top:38, row:0},
  {left:50, top:289, row:1}, {left:319, top:289, row:1}, {left:587, top:289, row:1}, {left:855, top:289, row:1},
  {left:162, top:539, row:2}, {left:429, top:539, row:2}, {left:697, top:539, row:2}
];
const ROW_STYLE = [
  {titleDy:-16, ylabDx:-30, ylabDy:89},
  {titleDy:-15, ylabDx:-30, ylabDy:89},
  {titleDy:-18, ylabDx:-32, ylabDy:81}
];

function line(ctx, x1, y1, x2, y2) { ctx.beginPath(); ctx.moveTo(x1, y1); ctx.lineTo(x2, y2); ctx.stroke(); }
function toPoints(pairs) {
  const pts = [];
  pairs.forEach(([vals, days]) => vals.forEach((v, i) => {
    if (v !== null && v !== undefined && days[i] !== undefined) pts.push({x: days[i], y: v});
  }));
  return pts;
}

const panelPlugin = {
  id: 'panel',
  beforeDraw(chart, args, o) {
    const {ctx, chartArea: a} = chart, xs = chart.scales.x;
    const x1 = xs.getPixelForValue(o.bandStart), x2 = xs.getPixelForValue(o.bandEnd);
    ctx.save();
    ctx.fillStyle = COLOR_BAND;
    ctx.fillRect(x1, a.top, x2 - x1, a.bottom - a.top);
    ctx.restore();
  },
  afterDraw(chart, args, o) {
    const {ctx, chartArea: a} = chart, xs = chart.scales.x, ys = chart.scales.y;
    ctx.save();
    ctx.strokeStyle = COLOR_AXIS; ctx.lineWidth = 1;
    for (let i = 0; i <= 7; i++) {
      const py = Math.round(ys.getPixelForValue(Y_MIN + i * (Y_MAX - Y_MIN) / 7)) + 0.5;
      line(ctx, a.left, py, a.left + 4, py);
    }
    xs.ticks.forEach(t => {
      const px = Math.round(xs.getPixelForValue(t.value)) + 0.5;
      line(ctx, px, a.bottom, px, a.bottom - 4);
    });
    ctx.fillStyle = COLOR_TEXT;
    ctx.font = 'bold 18px ' + FONT;
    ctx.textAlign = 'center'; ctx.textBaseline = 'middle';
    ctx.fillText(o.title, (a.left + a.right) / 2, a.top + o.titleDy);
    if (o.showY) {
      ctx.save();
      ctx.translate(a.left + o.ylabDx, a.top + o.ylabDy);
      ctx.rotate(-Math.PI / 2);
      ctx.font = '20px ' + FONT;
      ctx.fillText('ET (mm/day)', 0, 0);
      ctx.restore();
    }
    if (o.legend) {
      const items = [{sub:'EC', color:COLOR_EC, dy:90}, {sub:'GLEAM', color:COLOR_GLEAM, dy:116}];
      items.forEach(it => {
        const cy = a.top + it.dy;
        ctx.fillStyle = it.color;
        ctx.beginPath(); ctx.arc(a.right + 49, cy, 1.8, 0, Math.PI * 2); ctx.fill();
        ctx.fillStyle = COLOR_TEXT;
        ctx.textAlign = 'left'; ctx.textBaseline = 'alphabetic';
        ctx.font = '20px ' + FONT;
        const tx = a.right + 69, base = cy + 3;
        ctx.fillText('ET', tx, base);
        const w = ctx.measureText('ET').width;
        ctx.font = '14px ' + FONT;
        ctx.fillText(it.sub, tx + w, base + 5);
      });
    }
    ctx.restore();
  }
};

const wrap = document.getElementById('wrap');
SITES.forEach((site, k) => {
  const pos = PANEL_POS[k], rs = ROW_STYLE[pos.row];
  const isLegend = site === 'BAN';
  const showY = (k === 0 || k === 4 || k === 8);
  const showX = pos.row === 2;
  const cw = isLegend ? (1086 - (pos.left - MARGIN_L)) : (MARGIN_L + PLOT_W + MARGIN_R);
  const ch = MARGIN_T + PLOT_H + MARGIN_B;
  const canvas = document.createElement('canvas');
  canvas.width = cw; canvas.height = ch;
  canvas.style.left = (pos.left - MARGIN_L) + 'px';
  canvas.style.top = (pos.top - MARGIN_T) + 'px';
  canvas.style.width = cw + 'px'; canvas.style.height = ch + 'px';
  wrap.appendChild(canvas);

  new Chart(canvas, {
    type: 'scatter',
    data: {
      datasets: [
        {label: 'ET_GLEAM', data: toPoints(GLEAM_BY_SITE[site]), backgroundColor: COLOR_GLEAM, pointRadius: 1.6, pointBorderWidth: 0, pointHoverRadius: 0, order: 1},
        {label: 'ET_EC', data: toPoints(EC_BY_SITE[site]), backgroundColor: COLOR_EC, pointRadius: 1.6, pointBorderWidth: 0, pointHoverRadius: 0, order: 2}
      ]
    },
    options: {
      responsive: false, animation: false, devicePixelRatio: 1, events: [],
      layout: {padding: {left: 0, top: MARGIN_T, right: cw - MARGIN_L - PLOT_W, bottom: 0}},
      plugins: {
        legend: {display: false}, tooltip: {enabled: false}, title: {display: false},
        panel: {title: site, bandStart: DRY_START[k], bandEnd: DRY_END[k], showY: showY, legend: isLegend,
                titleDy: rs.titleDy, ylabDx: rs.ylabDx, ylabDy: rs.ylabDy}
      },
      scales: {
        x: {
          type: 'linear', min: 1, max: 354,
          afterBuildTicks: s => { s.ticks = X_TICK_LABELS.map((l, i) => ({value: 1 + i * 353 / 5})); },
          afterFit: s => { s.height = MARGIN_B; },
          ticks: {display: true, autoSkip: false, maxRotation: 0, minRotation: 0, padding: 5,
                  color: COLOR_TEXT, font: {family: FONT, size: 16},
                  callback: (v, i) => showX ? X_TICK_LABELS[i] : ''},
          grid: {display: false, drawTicks: false},
          border: {display: true, color: COLOR_AXIS, width: 1}
        },
        y: {
          type: 'linear', min: Y_MIN, max: Y_MAX,
          afterBuildTicks: s => { s.ticks = Y_TICK_VALUES.map(v => ({value: v})); },
          afterFit: s => { s.width = MARGIN_L; },
          ticks: {display: true, padding: 6, color: COLOR_TEXT, font: {family: FONT, size: 16},
                  callback: v => showY ? String(v) : ''},
          grid: {display: false, drawTicks: false},
          border: {display: true, color: COLOR_AXIS, width: 1}
        }
      }
    },
    plugins: [panelPlugin]
  });
});
</script></body></html>
